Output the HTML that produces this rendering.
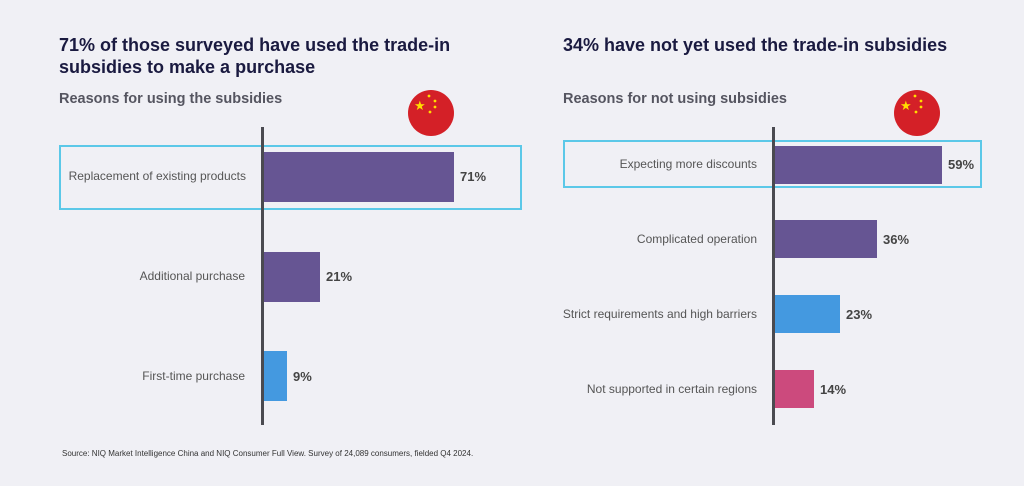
<!DOCTYPE html>
<html><head><style>
body{margin:0;width:1024px;height:486px;background:#f0f0f5;font-family:"Liberation Sans",sans-serif;position:relative;overflow:hidden}
div{position:absolute}
.t{font-size:18px;font-weight:bold;color:#1a1a40;line-height:22px}
.s{font-size:14.5px;font-weight:bold;color:#555560}
.ax{background:#4a4a50;width:3px}
.lbl{font-size:12px;color:#555;text-align:right}
.v{font-size:13px;font-weight:bold;color:#444}
.box{border:2px solid #5bc8e8;box-sizing:border-box}
</style></head><body>
<div class="t" style="left:59px;top:34px">71% of those surveyed have used the trade-in<br>subsidies to make a purchase</div>
<div class="s" style="left:59px;top:91px">Reasons for using the subsidies</div>
<div class="t" style="left:563px;top:34px">34% have not yet used the trade-in subsidies</div>
<div class="s" style="left:563px;top:91px">Reasons for not using subsidies</div>

<svg style="position:absolute;left:408px;top:90px" width="46" height="46" viewBox="0 0 46 46"><circle cx="23" cy="23" r="23" fill="#d42027"/><text x="6" y="20" font-size="13" fill="#ffde00">★</text><circle cx="21" cy="6" r="1.4" fill="#ffde00"/><circle cx="27" cy="11" r="1.4" fill="#ffde00"/><circle cx="27" cy="17" r="1.4" fill="#ffde00"/><circle cx="22" cy="22" r="1.4" fill="#ffde00"/></svg>
<svg style="position:absolute;left:894px;top:90px" width="46" height="46" viewBox="0 0 46 46"><circle cx="23" cy="23" r="23" fill="#d42027"/><text x="6" y="20" font-size="13" fill="#ffde00">★</text><circle cx="21" cy="6" r="1.4" fill="#ffde00"/><circle cx="27" cy="11" r="1.4" fill="#ffde00"/><circle cx="27" cy="17" r="1.4" fill="#ffde00"/><circle cx="22" cy="22" r="1.4" fill="#ffde00"/></svg>

<div class="box" style="left:59px;top:145px;width:463px;height:65px"></div>
<div class="ax" style="left:261px;top:127px;height:298px"></div>
<div style="left:264px;top:152px;width:190px;height:50px;background:#665593"></div>
<div style="left:264px;top:252px;width:56px;height:50px;background:#665593"></div>
<div style="left:264px;top:351px;width:23px;height:50px;background:#4499e0"></div>
<div class="lbl" style="left:40px;width:206px;top:169px">Replacement of existing products</div>
<div class="lbl" style="left:40px;width:205px;top:269px">Additional purchase</div>
<div class="lbl" style="left:40px;width:205px;top:369px">First-time purchase</div>
<div class="v" style="left:460px;top:169px">71%</div>
<div class="v" style="left:326px;top:269px">21%</div>
<div class="v" style="left:293px;top:369px">9%</div>

<div class="box" style="left:563px;top:140px;width:419px;height:48px"></div>
<div class="ax" style="left:772px;top:127px;height:298px"></div>
<div style="left:775px;top:146px;width:167px;height:38px;background:#665593"></div>
<div style="left:775px;top:220px;width:102px;height:38px;background:#665593"></div>
<div style="left:775px;top:295px;width:65px;height:38px;background:#4499e0"></div>
<div style="left:775px;top:370px;width:39px;height:38px;background:#cc4a7d"></div>
<div class="lbl" style="left:540px;width:217px;top:157px">Expecting more discounts</div>
<div class="lbl" style="left:540px;width:217px;top:232px">Complicated operation</div>
<div class="lbl" style="left:540px;width:217px;top:307px">Strict requirements and high barriers</div>
<div class="lbl" style="left:540px;width:217px;top:382px">Not supported in certain regions</div>
<div class="v" style="left:948px;top:157px">59%</div>
<div class="v" style="left:883px;top:232px">36%</div>
<div class="v" style="left:846px;top:307px">23%</div>
<div class="v" style="left:820px;top:382px">14%</div>

<div style="left:62px;top:449px;font-size:8px;color:#333">Source: NIQ Market Intelligence China and NIQ Consumer Full View. Survey of 24,089 consumers, fielded Q4 2024.</div>
</body></html>
